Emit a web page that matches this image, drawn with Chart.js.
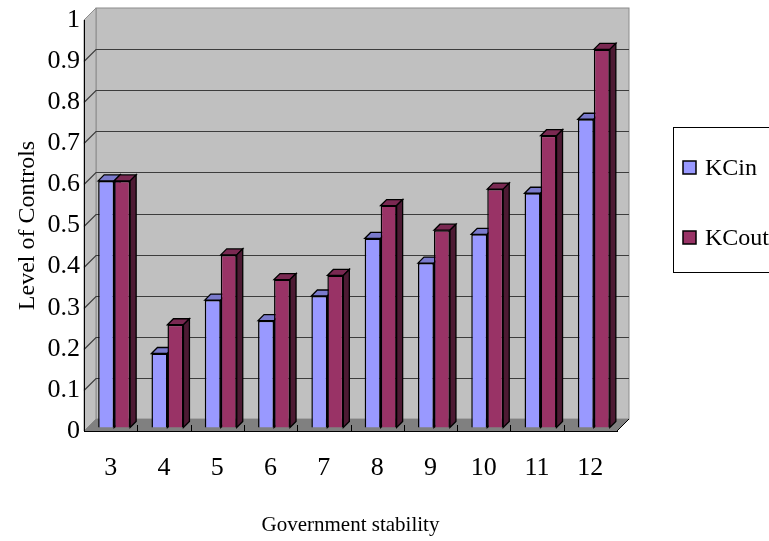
<!DOCTYPE html>
<html>
<head>
<meta charset="utf-8">
<title>Level of Controls</title>
<script src="https://cdn.jsdelivr.net/npm/chart.js@4"></script>
<style>
  html, body { margin: 0; padding: 0; background: #fff; }
  canvas { display: block; }
</style>
</head>
<body>
<canvas id="chart" width="769" height="541"></canvas>
<script>
const categories = ['3', '4', '5', '6', '7', '8', '9', '10', '11', '12'];
const kcIn = [0.60, 0.18, 0.31, 0.26, 0.32, 0.46, 0.40, 0.47, 0.57, 0.75];
const kcOut = [0.60, 0.25, 0.42, 0.36, 0.37, 0.54, 0.48, 0.58, 0.71, 0.92];
const yTickLabels = ['0', '0.1', '0.2', '0.3', '0.4', '0.5', '0.6', '0.7', '0.8', '0.9', '1'];

const ctx = document.getElementById('chart').getContext('2d');
const SERIF = "'Liberation Serif', 'Times New Roman', serif";
const DEPTH = 12;      // floor / wall depth
const BAR_DEPTH = 6;   // depth of each bar
const BAR_SHIFT = 3.5; // bars stand a little behind the front edge

function shade(hex, f) {
    const n = parseInt(hex.slice(1), 16);
    const r = Math.round(((n >> 16) & 255) * f);
    const g = Math.round(((n >> 8) & 255) * f);
    const b = Math.round((n & 255) * f);
    return `rgb(${r}, ${g}, ${b})`;
}

function poly(c, pts) {
    c.beginPath();
    c.moveTo(pts[0][0], pts[0][1]);
    pts.slice(1).forEach(p => c.lineTo(p[0], p[1]));
    c.closePath();
}

const wallsPlugin = {
    id: 'walls',
    beforeDraw(chart) {
        const { ctx: c, chartArea: { left, right, top, bottom }, scales: { x, y } } = chart;
        const d = DEPTH;
        c.save();
        c.lineWidth = 1;

        // back wall
        c.fillStyle = '#c0c0c0';
        c.strokeStyle = '#8c8c8c';
        c.fillRect(left + d, top - d, right - left, bottom - top);
        c.strokeRect(left + d, top - d, right - left, bottom - top);

        // left wall
        poly(c, [[left, top], [left + d, top - d], [left + d, bottom - d], [left, bottom]]);
        c.fill();
        c.stroke();

        // grid lines, running over the side wall and the back wall
        c.strokeStyle = '#3c3c3c';
        c.lineWidth = 1.2;
        y.ticks.forEach(t => {
            if (t.value <= 0 || t.value >= 1) return;
            const py = Math.round(y.getPixelForValue(t.value)) + 0.5;
            c.beginPath();
            c.moveTo(left, py);
            c.lineTo(left + d, py - d);
            c.lineTo(right + d, py - d);
            c.stroke();
        });

        // floor
        c.fillStyle = '#808080';
        poly(c, [[left, bottom], [left + d, bottom - d], [right + d, bottom - d], [right, bottom]]);
        c.fill();
        c.strokeStyle = '#000';
        c.lineWidth = 1;
        c.beginPath();
        c.moveTo(right, bottom);
        c.lineTo(right + d, bottom - d);
        c.stroke();

        // category ticks on the floor edge
        c.beginPath();
        for (let i = 1; i < categories.length; i++) {
            const bx = Math.round((x.getPixelForValue(i - 1) + x.getPixelForValue(i)) / 2) + 0.5;
            c.moveTo(bx, bottom);
            c.lineTo(bx, bottom - 6);
        }
        c.stroke();
        c.restore();
    }
};

// Chart.js paints the last dataset first; here the bars are painted
// front-to-back in dataset order so the box faces overlap correctly.
const barsPlugin = {
    id: 'bars3d',
    beforeDatasetDraw() {
        return false;
    },
    afterDatasetsDraw(chart) {
        const c = chart.ctx;
        const d = BAR_DEPTH;
        chart.data.datasets.forEach((ds, i) => {
            const meta = chart.getDatasetMeta(i);
            c.save();
            c.translate(BAR_SHIFT, -BAR_SHIFT);
            meta.controller.draw();
            c.lineWidth = 1.3;
            c.strokeStyle = '#000';
            meta.data.forEach(bar => {
                const { x, y, base, width } = bar.getProps(['x', 'y', 'base', 'width'], true);
                const l = x - width / 2;
                const r = x + width / 2;
                c.fillStyle = shade(ds.backgroundColor, 0.8);
                poly(c, [[l, y], [l + d, y - d], [r + d, y - d], [r, y]]);
                c.fill();
                c.stroke();
                c.fillStyle = shade(ds.backgroundColor, 0.5);
                poly(c, [[r, y], [r + d, y - d], [r + d, base - d], [r, base]]);
                c.fill();
                c.stroke();
            });
            c.restore();
        });
    }
};

const legendPlugin = {
    id: 'boxLegend',
    afterDraw(chart) {
        const c = chart.ctx;
        c.save();
        c.strokeStyle = '#000';
        c.lineWidth = 1;
        c.strokeRect(673.5, 127.5, 120, 145);
        c.font = '24px ' + SERIF;
        c.textBaseline = 'middle';
        chart.data.datasets.forEach((ds, i) => {
            const cy = 168 + i * 70;
            c.fillStyle = ds.backgroundColor;
            c.fillRect(683, cy - 7, 13, 13);
            c.lineWidth = 1.5;
            c.strokeRect(683, cy - 7, 13, 13);
            c.fillStyle = '#000';
            c.fillText(ds.label, 705, cy + 1);
        });
        c.restore();
    }
};

new Chart(ctx, {
    type: 'bar',
    data: {
        labels: categories,
        datasets: [
            {
                label: 'KCin',
                data: kcIn,
                backgroundColor: '#9999ff',
                borderColor: '#000',
                borderWidth: 1.5,
                clip: false,
            },
            {
                label: 'KCout',
                data: kcOut,
                backgroundColor: '#993366',
                borderColor: '#000',
                borderWidth: 1.5,
                clip: false,
            }
        ]
    },
    options: {
        responsive: false,
        animation: false,
        categoryPercentage: 0.6,
        barPercentage: 1,
        layout: { padding: { top: 20, right: 152, bottom: 0, left: 0 } },
        plugins: {
            legend: { display: false },
            tooltip: { enabled: false },
        },
        scales: {
            x: {
                offset: true,
                grid: { display: false, drawTicks: false },
                border: { display: true, color: '#000', width: 1 },
                ticks: { color: '#000', font: { family: SERIF, size: 26 }, padding: 22 },
                title: {
                    display: true,
                    text: 'Government stability',
                    color: '#000',
                    font: { family: SERIF, size: 21 },
                    padding: { top: 0, bottom: 3 },
                },
                afterFit(scale) { scale.height = 110; },
            },
            y: {
                min: 0,
                max: 1,
                grid: { display: false, drawTicks: false },
                border: { display: true, color: '#000', width: 1 },
                ticks: {
                    stepSize: 0.1,
                    color: '#000',
                    font: { family: SERIF, size: 26 },
                    padding: 4,
                    callback(value, index) {
                        return yTickLabels[index];
                    }
                },
                title: {
                    display: true,
                    text: 'Level of Controls',
                    color: '#000',
                    font: { family: SERIF, size: 24 },
                    padding: { top: 13, bottom: 0 },
                },
                afterFit(scale) { scale.width = 84; },
            }
        }
    },
    plugins: [wallsPlugin, barsPlugin, legendPlugin]
});
</script>
</body>
</html>
